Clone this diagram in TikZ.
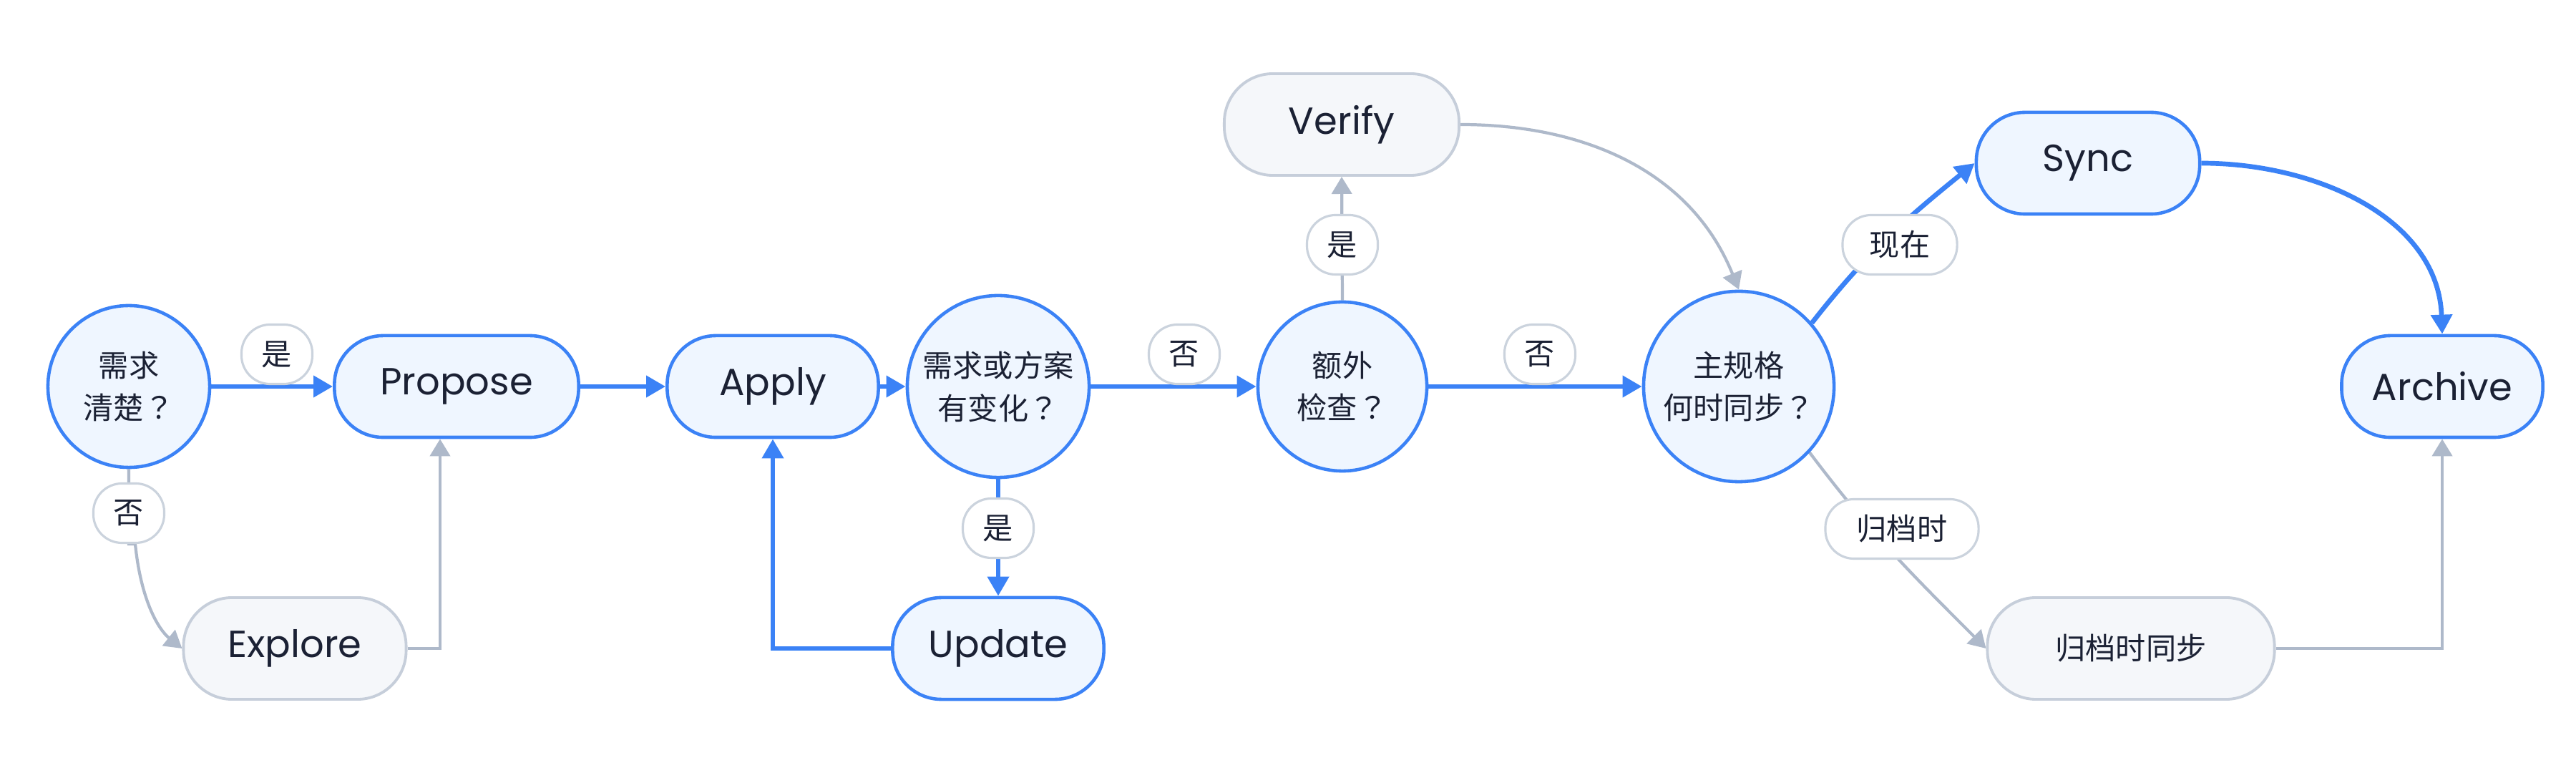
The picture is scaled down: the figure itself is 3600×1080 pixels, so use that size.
\documentclass[tikz,border=0pt]{standalone}
\usepackage{fontspec}
\setmainfont{Poppins}
\newfontfamily\cjk{Noto Sans CJK SC}
\newfontfamily\cjkq{Noto Sans CJK JP}
\newcommand{\qm}{{\cjkq ？}}
\usetikzlibrary{arrows.meta,backgrounds}
\definecolor{blu}{HTML}{3B82F6}
\definecolor{blufill}{HTML}{EFF6FF}
\definecolor{gline}{HTML}{C6CEDA}
\definecolor{gfill}{HTML}{F5F7FA}
\definecolor{gedgec}{HTML}{AEB9CA}
\definecolor{lline}{HTML}{CBD3DD}
\definecolor{ink}{HTML}{1B2134}
\tikzset{
  proc/.style={rectangle, rounded corners=0.68cm, draw=blu, fill=blufill, line width=1.3pt,
    minimum height=1.42cm, inner sep=0pt, font=\fontsize{15}{18}\selectfont, text=ink},
  gproc/.style={proc, draw=gline, fill=gfill, line width=1.1pt},
  dec/.style={circle, draw=blu, fill=blufill, line width=1.3pt, inner sep=0pt, align=center,
    font=\cjk\fontsize{12}{17}\selectfont, text=ink},
  lab/.style={rectangle, rounded corners=0.4cm, draw=lline, fill=white, line width=0.9pt,
    minimum width=0.99cm, minimum height=0.83cm, inner sep=0pt,
    font=\cjk\fontsize{12}{14}\selectfont, text=ink},
  bedge/.style={draw=blu, line width=1.9pt, -{Triangle[length=0.27cm,width=0.29cm]}},
  gedge/.style={draw=gedgec, line width=1.2pt, -{Triangle[length=0.24cm,width=0.28cm]}},
}
\begin{document}
\begin{tikzpicture}[x=0.01cm,y=-0.01cm]
\path[use as bounding box] (0,0) rectangle (3600,1080);
% decision nodes
\node[dec, minimum size=2.26cm] (d1) at (180,540) {需求\\清楚\qm};
\node[dec, minimum size=2.54cm] (d2) at (1395,540) {需求或方案\\有变化\qm};
\node[dec, minimum size=2.36cm] (d3) at (1876,540) {额外\\检查\qm};
\node[dec, minimum size=2.66cm] (d4) at (2430,540) {主规格\\何时同步\qm};
% process nodes
\node[proc, minimum width=3.41cm] (propose) at (638,540) {Propose};
\node[gproc, minimum width=3.11cm] (explore) at (412,906) {Explore};
\node[proc, minimum width=2.95cm] (apply) at (1080,540) {Apply};
\node[proc, minimum width=2.95cm] (update) at (1395,906) {Update};
\node[gproc, minimum width=3.28cm] (verify) at (1875,174) {Verify};
\node[proc, minimum width=3.12cm] (sync) at (2918,228) {Sync};
\node[gproc, minimum width=4.01cm, font=\cjk\fontsize{12}{14}\selectfont] (sync2) at (2978,906) {归档时同步};
\node[proc, minimum width=2.81cm] (archive) at (3413,540) {Archive};
% labels
\node[lab] (lyes1) at (387,495) {是};
\node[lab] (lno1) at (180,717) {否};
\node[lab] (lno2) at (1655,495) {否};
\node[lab] (lyes2) at (1395,738) {是};
\node[lab] (lyes3) at (1876,342) {是};
\node[lab] (lno3) at (2152,495) {否};
\node[lab, minimum width=1.6cm] (lnow) at (2655,342) {现在};
\node[lab, minimum width=2.14cm] (larch) at (2658,739) {归档时};
% edges
\begin{scope}[on background layer]
\draw[bedge] (d1.east) -- (propose.west);
\draw[gedge] (d1.south) -- (lno1.south) -- ([xshift=0.09cm]lno1.south) .. controls (197,840) and (222,880) .. (explore.west);
\draw[gedge] (explore.east) -| ([xshift=-0.23cm]propose.south);
\draw[bedge] (propose.east) -- (apply.west);
\draw[bedge] (apply.east) -- (d2.west);
\draw[bedge] (d2.east) -- (d3.west);
\draw[bedge] (d2.south) -- (update.north);
\draw[bedge] (update.west) -| (apply.south);
\draw[gedge] (d3.north) -- (verify.south);
\draw[bedge] (d3.east) -- (d4.west);
\draw[gedge] (verify.east) to[out=0,in=112] (d4.north);
\draw[bedge] (d4.41) to[out=52,in=219] (sync.west);
\draw[gedge] (d4.-43) to[out=-53,in=135] (sync2.west);
\draw[bedge] (sync.east) to[out=0,in=92] (archive.north);
\draw[gedge] (sync2.east) -| (archive.south);
\end{scope}
\end{tikzpicture}
\end{document}
